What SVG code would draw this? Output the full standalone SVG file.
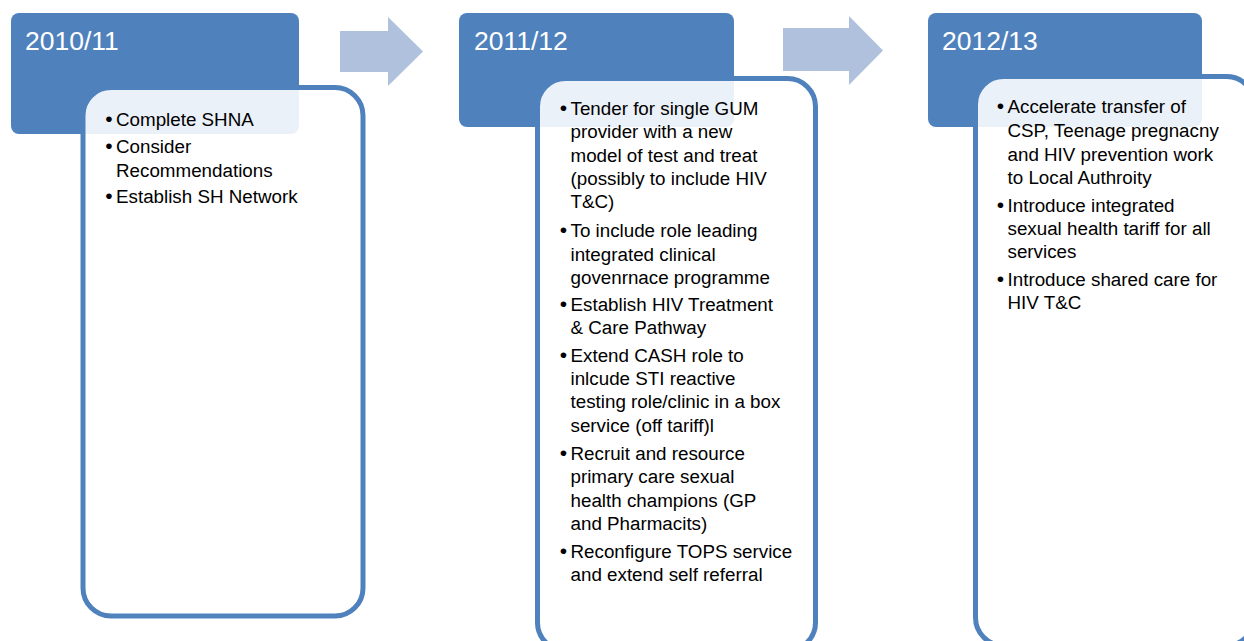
<svg xmlns="http://www.w3.org/2000/svg" width="1244" height="641" viewBox="0 0 1244 641">
<style>
.hdr{fill:#4F81BD}
.box{fill:#FFFFFF;fill-opacity:0.89;stroke:#4F81BD;stroke-width:5}
.arr{fill:#AFC1DD}
.ttl{font-family:"Liberation Sans",Arial,sans-serif;font-size:26.5px;fill:#FFFFFF}
.txt{font-family:"Liberation Sans",Arial,sans-serif;font-size:18.8px;fill:#000000}
.bul{font-family:"Liberation Sans",Arial,sans-serif;font-size:21px;fill:#000000;text-anchor:middle}
</style>
<rect width="1244" height="641" fill="#FFFFFF"/>
<g id="connectors">
<polygon class="arr" points="340,31 388,31 388,17 423,51.5 388,86 388,72 340,72"/>
<polygon class="arr" points="783,28 849,28 849,16 883,50.5 849,85 849,71 783,71"/>
</g>
<g id="node-2010">
<rect class="hdr" x="11" y="13" width="288" height="121" rx="8"/>
<text class="ttl" x="25" y="50">2010/11</text>
<rect class="box" x="83" y="87.5" width="280" height="528.5" rx="28"/>
<text class="bul" x="109" y="126">•</text><text class="txt" x="116" y="126">Complete SHNA</text>
<text class="bul" x="109" y="153">•</text><text class="txt" x="116" y="153">Consider</text>
<text class="txt" x="116" y="177">Recommendations</text>
<text class="bul" x="109" y="203">•</text><text class="txt" x="116" y="203">Establish SH Network</text>
</g>
<g id="node-2011">
<rect class="hdr" x="459" y="13" width="275" height="114" rx="8"/>
<text class="ttl" x="474" y="50">2011/12</text>
<rect class="box" x="537.5" y="78.5" width="278" height="572" rx="28"/>
<text class="bul" x="563.5" y="115">•</text><text class="txt" x="570.5" y="115">Tender for single GUM</text>
<text class="txt" x="570.5" y="138.3">provider with a new</text>
<text class="txt" x="570.5" y="161.7">model of test and treat</text>
<text class="txt" x="570.5" y="185">(possibly to include HIV</text>
<text class="txt" x="570.5" y="208.3">T&amp;C)</text>
<text class="bul" x="563.5" y="237">•</text><text class="txt" x="570.5" y="237">To include role leading</text>
<text class="txt" x="570.5" y="260.5">integrated clinical</text>
<text class="txt" x="570.5" y="284">govenrnace programme</text>
<text class="bul" x="563.5" y="310.5">•</text><text class="txt" x="570.5" y="310.5">Establish HIV Treatment</text>
<text class="txt" x="570.5" y="334">&amp; Care Pathway</text>
<text class="bul" x="563.5" y="361.5">•</text><text class="txt" x="570.5" y="361.5">Extend CASH role to</text>
<text class="txt" x="570.5" y="385">inlcude STI reactive</text>
<text class="txt" x="570.5" y="408.3">testing role/clinic in a box</text>
<text class="txt" x="570.5" y="431.7">service (off tariff)l</text>
<text class="bul" x="563.5" y="459.5">•</text><text class="txt" x="570.5" y="459.5">Recruit and resource</text>
<text class="txt" x="570.5" y="483">primary care sexual</text>
<text class="txt" x="570.5" y="506.5">health champions (GP</text>
<text class="txt" x="570.5" y="530">and Pharmacits)</text>
<text class="bul" x="563.5" y="558">•</text><text class="txt" x="570.5" y="558">Reconfigure TOPS service</text>
<text class="txt" x="570.5" y="581">and extend self referral</text>
</g>
<g id="node-2012">
<rect class="hdr" x="928" y="13" width="274" height="114" rx="8"/>
<text class="ttl" x="942" y="50">2012/13</text>
<rect class="box" x="975.5" y="76.5" width="279" height="569" rx="28"/>
<text class="bul" x="1000.5" y="113.3">•</text><text class="txt" x="1007.5" y="113.3">Accelerate transfer of</text>
<text class="txt" x="1007.5" y="137">CSP, Teenage pregnacny</text>
<text class="txt" x="1007.5" y="160.7">and HIV prevention work</text>
<text class="txt" x="1007.5" y="184">to Local Authroity</text>
<text class="bul" x="1000.5" y="211.7">•</text><text class="txt" x="1007.5" y="211.7">Introduce integrated</text>
<text class="txt" x="1007.5" y="235">sexual health tariff for all</text>
<text class="txt" x="1007.5" y="258.3">services</text>
<text class="bul" x="1000.5" y="286">•</text><text class="txt" x="1007.5" y="286">Introduce shared care for</text>
<text class="txt" x="1007.5" y="309.3">HIV T&amp;C</text>
</g>
</svg>
